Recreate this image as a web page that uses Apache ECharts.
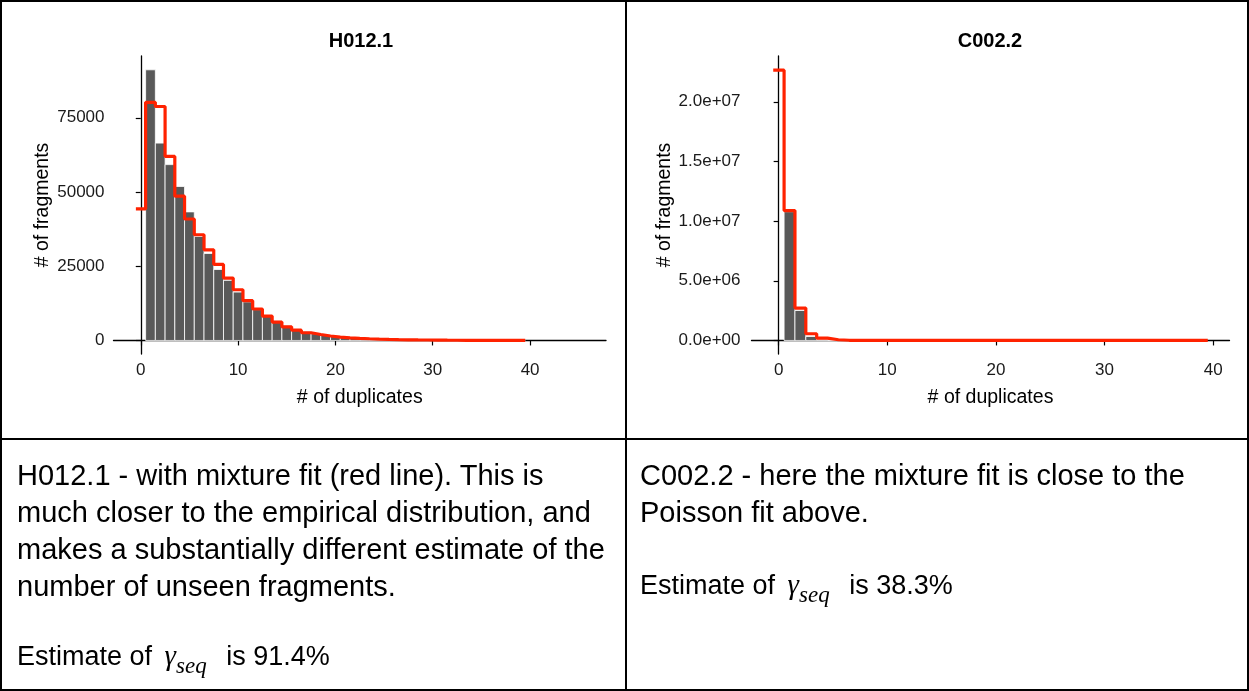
<!DOCTYPE html>
<html>
<head>
<meta charset="utf-8">
<script src="https://cdn.jsdelivr.net/npm/echarts@6/dist/echarts.min.js"></script>
<style>
body { margin: 0; background: #fff; }
.page { position: relative; width: 1249px; height: 691px; overflow: hidden; font-family: "Liberation Sans", Arial, sans-serif; color: #000; }
.frame { position: absolute; left: 0; top: 0; width: 1249px; height: 691px; box-sizing: border-box; border: 2px solid #000; }
.vline { position: absolute; left: 625px; top: 0; width: 2px; height: 691px; background: #000; }
.hline { position: absolute; left: 0; top: 438px; width: 1249px; height: 2px; background: #000; }
.txt { position: absolute; font-size: 29px; line-height: 37px; white-space: nowrap; }
.est { font-size: 27px; }
.gam { font-family: "Liberation Serif", "Times New Roman", serif; font-style: italic; font-size: 29px; margin-left: 5px; }
.sub { font-family: "Liberation Serif", "Times New Roman", serif; font-style: italic; font-size: 23px; position: relative; top: 8px; margin-right: 12px; }
#chart { position: absolute; left: 0; top: 0; width: 1249px; height: 691px; }
</style>
</head>
<body>
<div class="page">
  <div class="frame"></div>
  <div class="vline"></div>
  <div class="hline"></div>
  <div id="chart"></div>
  <div class="txt" style="left:17px; top:457px;">H012.1 - with mixture fit (red line). This is<br>much closer to the empirical distribution, and<br>makes a substantially different estimate of the<br>number of unseen fragments.</div>
  <div class="txt est" style="left:17px; top:637px;">Estimate of <span class="gam">γ</span><span class="sub">seq</span> is 91.4%</div>
  <div class="txt" style="left:640px; top:457px;">C002.2 - here the mixture fit is close to the<br>Poisson fit above.</div>
  <div class="txt est" style="left:640px; top:566px;">Estimate of <span class="gam">γ</span><span class="sub">seq</span> is 38.3%</div>
</div>

<script>
// H012.1 - histogram (# of duplicates 1..45) and mixture fit (0..39)
const h012Dups = [1, 2, 3, 4, 5, 6, 7, 8, 9, 10, 11, 12, 13, 14, 15, 16, 17, 18, 19, 20, 21, 22, 23, 24, 25, 26, 27, 28, 29, 30, 31, 32, 33, 34, 35, 36, 37, 38, 39, 40, 41, 42, 43, 44, 45];
const h012Counts = [91150, 66460, 59220, 51860, 43300, 35030, 29300, 23900, 20250, 16300, 13000, 10400, 8500, 6600, 5000, 3800, 3000, 2300, 1800, 1400, 1100, 880, 700, 540, 420, 320, 250, 190, 145, 110, 80, 60, 45, 35, 25, 20, 15, 10, 8, 0, 0, 0, 0, 0, 0];
const h012FitX = [0, 1, 2, 3, 4, 5, 6, 7, 8, 9, 10, 11, 12, 13, 14, 15, 16, 17, 18, 19, 20, 21, 22, 23, 24, 25, 26, 27, 28, 29, 30, 31, 32, 33, 34, 35, 36, 37, 38, 39];
const h012Fit = [44300, 80200, 78800, 61970, 48600, 40900, 35600, 30540, 25600, 21000, 17070, 13400, 10600, 8200, 6180, 4600, 3450, 2600, 2000, 1500, 1150, 900, 720, 570, 450, 360, 290, 230, 185, 150, 120, 95, 75, 60, 48, 38, 30, 24, 19, 15];

// C002.2
const c002Dups = [1, 2, 3, 4, 5, 6, 7, 8, 9, 10];
const c002Counts = [10790000, 2510000, 330000, 60000, 12000, 3000, 800, 200, 60, 20];
const c002FitX = [0, 1, 2, 3, 4, 5, 6, 7, 8, 9, 10, 11, 12, 13, 14, 15, 16, 17, 18, 19, 20, 21, 22, 23, 24, 25, 26, 27, 28, 29, 30, 31, 32, 33, 34, 35, 36, 37, 38, 39];
const c002Fit = [22650000, 10880000, 2710000, 560000, 200000, 60000, 15000, 4000, 1000, 300, 100, 30, 10, 5, 2, 1, 0, 0, 0, 0, 0, 0, 0, 0, 0, 0, 0, 0, 0, 0, 0, 0, 0, 0, 0, 0, 0, 0, 0, 0];

const xTicks = [0, 10, 20, 30, 40];
const h012YTicks = [0, 25000, 50000, 75000];
const c002YTicks = [0, 5000000, 10000000, 15000000, 20000000];

const FONT = '"Liberation Sans", Arial, sans-serif';
const RED = '#ff2200';

function sciLabel(v) {
  return v.toExponential(1).replace(/e([+-])(\d)$/, 'e$10$2');
}

// step line from -0.5 to 39.5, one level per integer
function stepData(xs, ys) {
  const pts = xs.map((x, i) => [x - 0.5, ys[i]]);
  pts.push([xs[xs.length - 1] + 0.5, ys[ys.length - 1]]);
  return pts;
}

function histItem(params, api) {
  const x = api.value(0);
  const y = api.value(1);
  if (!(y > 0)) return null; // empty bins draw nothing
  const p0 = api.coord([x - 0.5, y]);
  const p1 = api.coord([x + 0.5, 0]);
  return {
    type: 'rect',
    shape: { x: p0[0], y: p0[1], width: p1[0] - p0[0], height: p1[1] - p0[1] },
    style: { fill: '#595959', stroke: '#ffffff', lineWidth: 0.8 }
  };
}

function xAxisOf(gridIndex, min, max) {
  return {
    type: 'value', gridIndex: gridIndex, min: min, max: max,
    name: '# of duplicates', nameLocation: 'middle', nameGap: 34,
    nameTextStyle: { fontFamily: FONT, fontSize: 19.5, color: '#000' },
    axisLine: { lineStyle: { color: '#000', width: 1.3 } },
    axisTick: { customValues: xTicks, length: 5, lineStyle: { color: '#000', width: 1.2 } },
    axisLabel: { customValues: xTicks, margin: 8, fontFamily: FONT, fontSize: 17, color: '#1a1a1a' },
    splitLine: { show: false }
  };
}

function yAxisOf(gridIndex, min, max, ticks, fmt, nameGap, margin) {
  return {
    type: 'value', gridIndex: gridIndex, min: min, max: max,
    name: '# of fragments', nameLocation: 'middle', nameGap: nameGap, nameRotate: 90,
    nameTextStyle: { fontFamily: FONT, fontSize: 19.5, color: '#000' },
    axisLine: { show: true, lineStyle: { color: '#000', width: 1.3 } },
    axisTick: { show: true, customValues: ticks, length: 5, lineStyle: { color: '#000', width: 1.2 } },
    axisLabel: { customValues: ticks, margin: margin, fontFamily: FONT, fontSize: 17, color: '#1a1a1a', formatter: fmt },
    splitLine: { show: false }
  };
}

const chart = echarts.init(document.getElementById('chart'));
const option = {
  animation: false,
  backgroundColor: 'transparent',
  title: [
    { text: 'H012.1', left: 361, top: 31, textAlign: 'center', padding: 0,
      textStyle: { fontFamily: FONT, fontSize: 20, fontWeight: 'bold', color: '#000' } },
    { text: 'C002.2', left: 990, top: 31, textAlign: 'center', padding: 0,
      textStyle: { fontFamily: FONT, fontSize: 20, fontWeight: 'bold', color: '#000' } }
  ],
  grid: [
    { left: 113.5, top: 56, width: 492.5, height: 298 },
    { left: 751.5, top: 56, width: 478, height: 298 }
  ],
  xAxis: [
    xAxisOf(0, -2.8, 47.8),
    xAxisOf(1, -2.5, 41.5)
  ],
  yAxis: [
    yAxisOf(0, -4560, 95800, h012YTicks, v => String(v), 61, 9),
    yAxisOf(1, -1135000, 23835000, c002YTicks, sciLabel, 72, 11)
  ],
  series: [
    {
      type: 'custom', xAxisIndex: 0, yAxisIndex: 0,
      renderItem: histItem,
      data: h012Dups.map((d, i) => [d, h012Counts[i]])
    },
    {
      type: 'line', xAxisIndex: 0, yAxisIndex: 0, step: 'end', showSymbol: false, z: 5,
      lineStyle: { color: RED, width: 3.2 },
      data: stepData(h012FitX, h012Fit)
    },
    {
      type: 'custom', xAxisIndex: 1, yAxisIndex: 1,
      renderItem: histItem,
      data: c002Dups.map((d, i) => [d, c002Counts[i]])
    },
    {
      type: 'line', xAxisIndex: 1, yAxisIndex: 1, step: 'end', showSymbol: false, z: 5,
      lineStyle: { color: RED, width: 3.2 },
      data: stepData(c002FitX, c002Fit)
    }
  ]
};
chart.setOption(option);
</script>
</body>
</html>
